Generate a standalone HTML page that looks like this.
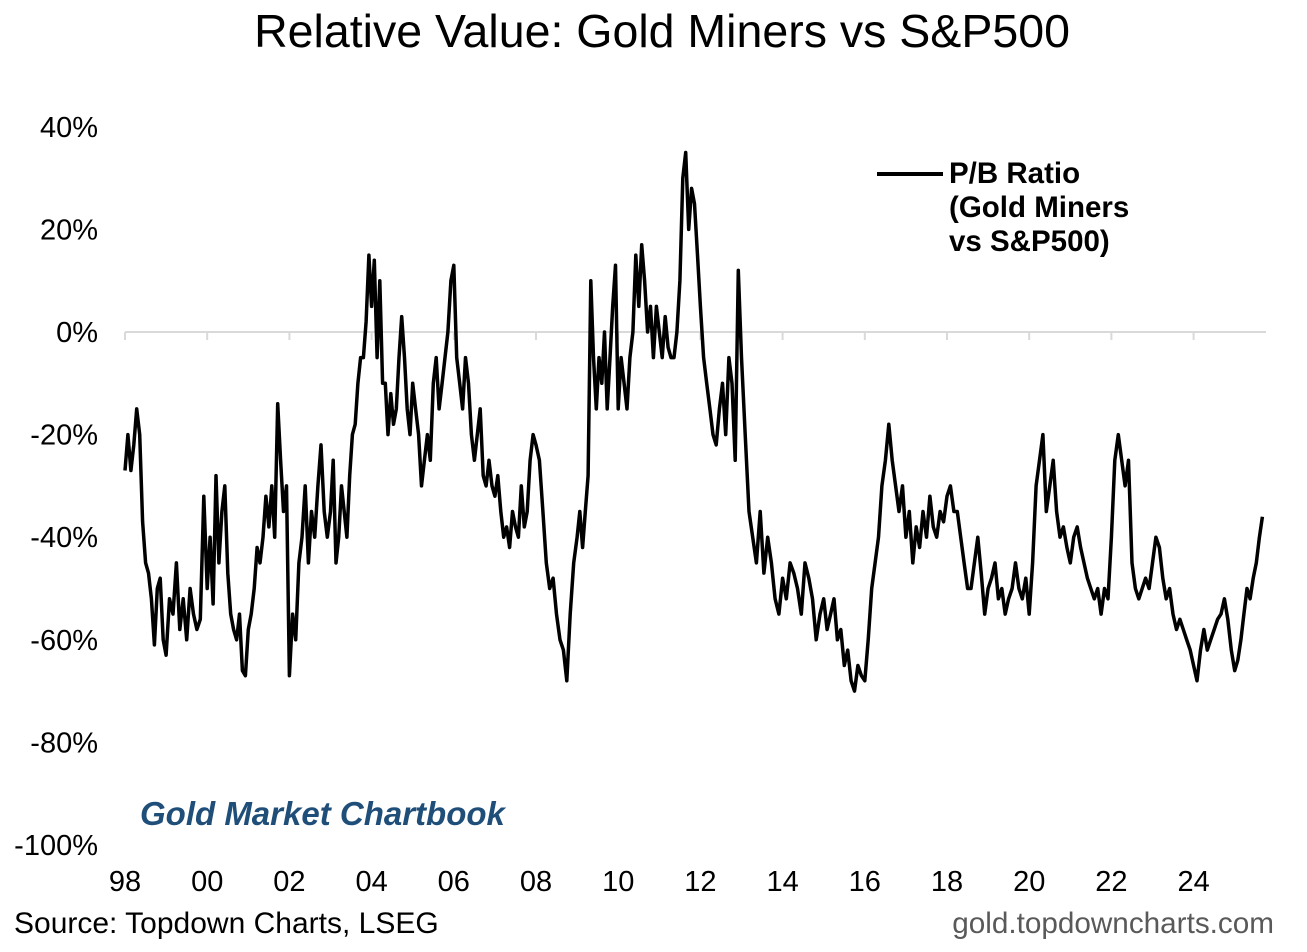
<!DOCTYPE html>
<html><head><meta charset="utf-8">
<style>
body{margin:0;background:#fff;width:1307px;height:947px;overflow:hidden;font-family:"Liberation Sans",Arial,sans-serif}
svg text{font-family:"Liberation Sans",Arial,sans-serif}
</style></head>
<body>
<svg id="chart" width="1307" height="947" viewBox="0 0 1307 947" xmlns="http://www.w3.org/2000/svg">
<text x="662" y="47" font-size="46.5" text-anchor="middle" fill="#000">Relative Value: Gold Miners vs S&amp;P500</text>
<g id="yaxis"></g>
<g id="xaxis"></g>
<g id="series"></g>
<g>
<line x1="877" y1="174" x2="943" y2="174" stroke="#000" stroke-width="4"/>
<text font-size="29.5" font-weight="bold" fill="#000"><tspan x="949" y="183">P/B Ratio</tspan><tspan x="949" y="217">(Gold Miners</tspan><tspan x="949" y="251">vs S&amp;P500)</tspan></text>
</g>
<text x="140" y="825" font-size="33" font-weight="bold" font-style="italic" fill="#1f4e79">Gold Market Chartbook</text>
<text x="14" y="933" font-size="30" fill="#000">Source: Topdown Charts, LSEG</text>
<text x="1274" y="933" font-size="29.7" fill="#595959" text-anchor="end">gold.topdowncharts.com</text>
</svg>
<script>
const yTicks=[40,20,0,-20,-40,-60,-80,-100];
const xTickYears=[1998,2000,2002,2004,2006,2008,2010,2012,2014,2016,2018,2020,2022,2024];
const xTickLabels=["98","00","02","04","06","08","10","12","14","16","18","20","22","24"];
const seriesYears=[1998,1999,2000,2001,2002,2003,2004,2005,2006,2007,2008,2009,2010,2011,2012,2013,2014,2015,2016,2017,2018,2019,2020,2021,2022,2023,2024,2025];
const v1998=[-27,-20,-27,-22,-15,-20,-37,-45,-47,-52,-61,-50,-48,-60];
const v1999=[-63,-52,-55,-45,-58,-52,-60,-50,-55,-58,-56,-32];
const v2000=[-50,-40,-53,-28,-45,-35,-30,-47,-55,-58,-60,-55,-66,-67];
const v2001=[-58,-55,-50,-42,-45,-40,-32,-38,-30,-40,-14,-25,-35,-30];
const v2002=[-67,-55,-60,-45,-40,-30,-45,-35,-40,-30,-22,-35,-40];
const v2003=[-35,-25,-45,-40,-30,-35,-40,-28,-20,-18,-10,-5,-5,2,15];
const v2004=[5,14,-5,10,-10,-10,-20,-12,-18,-15,-5,3,-5,-15,-20];
const v2005=[-10,-15,-20,-30,-25,-20,-25,-10,-5,-15,-10,-5,0,10];
const v2006=[13,-5,-10,-15,-5,-10,-20,-25,-20,-15,-28,-30,-25,-30];
const v2007=[-32,-28,-35,-40,-38,-42,-35,-38,-40,-30,-38,-35,-25,-20];
const v2008=[-22,-25,-35,-45,-50,-48,-55,-60,-62,-68,-55,-45];
const v2009=[-40,-35,-42,-35,-28,10,-5,-15,-5,-10,0,-15,-5,5,13];
const v2010=[-15,-5,-10,-15,-5,0,15,5,17,10,0,5,-5,5];
const v2011=[0,-5,3,-3,-5,-5,0,10,30,35,20,28,25,15];
const v2012=[5,-5,-10,-15,-20,-22,-15,-10,-20,-5,-10,-25,12];
const v2013=[-5,-20,-35,-40,-45,-35,-47,-40,-45,-52,-55];
const v2014=[-48,-52,-45,-47,-50,-55,-45,-48,-52,-60,-55];
const v2015=[-52,-58,-55,-52,-60,-58,-65,-62,-68,-70,-65,-67];
const v2016=[-68,-60,-50,-45,-40,-30,-25,-18,-25,-30,-35,-30];
const v2017=[-40,-35,-45,-38,-42,-35,-40,-32,-38,-40,-35,-37];
const v2018=[-32,-30,-35,-35,-40,-45,-50,-50,-45,-40,-47,-55];
const v2019=[-50,-48,-45,-52,-50,-55,-52,-50,-45,-50,-52,-48];
const v2020=[-55,-45,-30,-25,-20,-35,-30,-25,-35,-40,-38,-42];
const v2021=[-45,-40,-38,-42,-45,-48,-50,-52,-50,-55,-50,-52];
const v2022=[-40,-25,-20,-25,-30,-25,-45,-50,-52,-50,-48,-50];
const v2023=[-45,-40,-42,-48,-52,-50,-55,-58,-56,-58,-60,-62];
const v2024=[-65,-68,-62,-58,-62,-60,-58,-56,-55,-52,-56,-62];
const v2025=[-66,-64,-60,-55,-50,-52,-48,-45,-40,-36];
const seriesValues=[v1998,v1999,v2000,v2001,v2002,v2003,v2004,v2005,v2006,v2007,v2008,v2009,v2010,v2011,v2012,v2013,v2014,v2015,v2016,v2017,v2018,v2019,v2020,v2021,v2022,v2023,v2024,v2025];

const NS="http://www.w3.org/2000/svg";
const y=v=>332-(v*5.13);
const x=t=>125+(t-1998)*41.1;
const yg=document.getElementById('yaxis'),xg=document.getElementById('xaxis'),sg=document.getElementById('series');
yTicks.forEach(t=>{
  const tx=document.createElementNS(NS,'text');
  
  
  tx.setAttribute('x',98);tx.setAttribute('y',y(t)+10);tx.setAttribute('font-size','29');tx.setAttribute('text-anchor','end');
  tx.textContent=t+'%';yg.appendChild(tx);
});
const base=document.createElementNS(NS,'line');


base.setAttribute('x1',125);base.setAttribute('x2',1266);base.setAttribute('y1',y(0));base.setAttribute('y2',y(0));base.setAttribute('stroke','#d9d9d9');base.setAttribute('stroke-width','2');
xg.appendChild(base);
xTickYears.forEach((yr,i)=>{
  const tk=document.createElementNS(NS,'line');
  
  
  tk.setAttribute('x1',x(yr));tk.setAttribute('x2',x(yr));tk.setAttribute('y1',y(0));tk.setAttribute('y2',y(0)+8);tk.setAttribute('stroke','#d9d9d9');tk.setAttribute('stroke-width','2');
  xg.appendChild(tk);
  const tx=document.createElementNS(NS,'text');
  
  
  tx.setAttribute('x',x(yr));tx.setAttribute('y',891);tx.setAttribute('font-size','29');tx.setAttribute('text-anchor','middle');
  tx.textContent=xTickLabels[i];xg.appendChild(tx);
});
const pts=[];
seriesYears.forEach((yr,i)=>{
  const vals=seriesValues[i];
  const span=(yr===2025)?0.75:1;
  vals.forEach((v,j)=>pts.push(x(yr+span*j/vals.length).toFixed(1)+','+y(v).toFixed(1)));
});
const pl=document.createElementNS(NS,'polyline');


pl.setAttribute('points',pts.join(' '));pl.setAttribute('fill','none');pl.setAttribute('stroke','#000');pl.setAttribute('stroke-width','3.5');pl.setAttribute('stroke-linejoin','round');
sg.appendChild(pl);
</script>
</body></html>
